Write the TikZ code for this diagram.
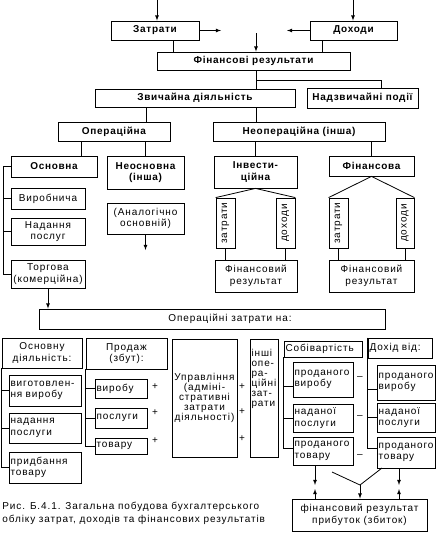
\documentclass[tikz,border=0pt]{standalone}
\usepackage{fontspec}
\setmainfont{Liberation Sans}[LetterSpace=9, BoldFeatures={LetterSpace=7}]
\usepackage{tikz}
\tikzset{
	% ordinary box
	box/.style={
		draw,
		inner sep=1pt,
		align=center,
		font=\fontsize{10}{11.5}\selectfont
	}, %
	% bold box
	bbox/.style={
		box,
		font=\fontsize{10}{11.5}\selectfont\bfseries
	}, %
	% box with text to the left
	lbox/.style={
		box,
		align=left,
		inner xsep=1.5pt,
		text width=#1
	}, %
	% upright box
	vbox/.style={
		box,
		rotate=90
	}, %
	% free text
	txt/.style={
		inner sep=0pt,
		font=\fontsize{10}{11.5}\selectfont
	} %
}

\begin{document}
\begin{tikzpicture}[x=1pt, y=-1pt, line width=0.8pt]
	\useasboundingbox (0,0) rectangle (438,533);

	%% Затрати, доходи, фінансові результати
	\node [bbox, minimum width=88, minimum height=19] (zatr) at (155,30.5) {Затрати};
	\node [bbox, minimum width=87, minimum height=19] (doh) at (353.5,30.5) {Доходи};
	\node [bbox, minimum width=193, minimum height=18] (finres) at (253.5,61) {Фінансові результати};
	\node [bbox, minimum width=200, minimum height=18] (zvych) at (195,98) {Звичайна діяльність};
	\node [bbox, minimum width=111, minimum height=20] (nadzv) at (362.5,98) {Надзвичайні події};

	\coordinate (zin) at (157,0);
	\coordinate (din) at (353,0);
	\coordinate (zout) at (221,30.5);
	\coordinate (dout) at (287,30.5);
	\coordinate (fin) at (256,33);
	\coordinate (j1) at (256,80);
	\draw [-latex] (zin) -- (zin |- zatr.north);
	\draw [-latex] (din) -- (din |- doh.north);
	\draw [-latex] (zatr.east) -- (zout);
	\draw [-latex] (doh.west) -- (dout);
	\draw [-latex] (fin) -- (fin |- finres.north);
	\draw ([xshift=18pt]zatr.south) -- ([xshift=18pt]zatr.south |- finres.north);
	\draw ([xshift=-31.5pt]doh.south) -- ([xshift=-31.5pt]doh.south |- finres.north);
	\draw (j1 |- finres.south) -- (j1 |- zvych.north);
	\draw (j1) -| ([xshift=18.5pt]nadzv.north);

	%% Операційна
	\node [bbox, minimum width=112, minimum height=19] (oper) at (114,131.5) {Операційна};
	\node [bbox, minimum width=172, minimum height=19] (neoper) at (299,131.5) {Неопераційна (інша)};
	\coordinate (c1) at (146,0);
	\coordinate (c2) at (81,0);
	\draw (c1 |- zvych.south) -- (c1 |- oper.north);
	\draw (j1 |- zvych.south) -- (j1 |- neoper.north);

	\node [bbox, minimum width=86, minimum height=21] (osn) at (54,166.5) {Основна};
	\node [bbox, minimum width=77, minimum height=33] (neosn) at (145.5,172.5) {Неосновна\\(інша)};
	\node [box, minimum width=74, minimum height=21] (vyrob) at (48,198.5) {Виробнича};
	\node [box, minimum width=74, minimum height=27] (nadan) at (48,231.5) {Надання\\послуг};
	\node [box, minimum width=74, minimum height=28] (torg) at (48,274) {Торгова\\(комерційна)};
	\node [box, minimum width=77, minimum height=31] (analog) at (145.5,218.5) {(Аналогічно\\основній)};
	\draw (c2 |- oper.south) -- (c2 |- osn.north);
	\draw (neosn.north |- oper.south) -- (neosn.north);
	\coordinate (lb) at (3,166.5);
	\draw (osn.west) -- (lb) |- (torg.west);
	\draw (lb) |- (vyrob.west);
	\draw (lb) |- (nadan.west);
	\coordinate (aend) at (145.5,250);
	\draw [-latex] (analog.south) -- (aend);

	%% Неопераційна
	\node [bbox, minimum width=83, minimum height=32] (invest) at (255.5,172) {Інвести-\\ційна};
	\node [bbox, minimum width=85, minimum height=20] (finans) at (371.5,166) {Фінансова};
	\draw (invest.north |- neoper.south) -- (invest.north);
	\draw (finans.north |- neoper.south) -- (finans.north);

	\node [vbox, minimum width=50, minimum height=19] (iz) at (225.5,223) {затрати};
	\node [vbox, minimum width=50, minimum height=19] (id) at (285.5,223) {доходи};
	\node [box, minimum width=82, minimum height=32] (ifr) at (256,276) {Фінансовий\\результат};
	\node [vbox, minimum width=50, minimum height=19] (fz) at (338.5,223) {затрати};
	\node [vbox, minimum width=50, minimum height=18] (fd) at (405,223) {доходи};
	\node [box, minimum width=85, minimum height=32] (ffr) at (371.5,276) {Фінансовий\\результат};
	\draw (iz.north east) -- (invest.south) -- (id.south east);
	\draw (fz.north east) -- (finans.south) -- (fd.south east);
	\draw (iz.west) -- (iz.west |- ifr.north);
	\draw (id.west) -- (id.west |- ifr.north);
	\draw (fz.west) -- (fz.west |- ffr.north);
	\draw (fd.west) -- (fd.west |- ffr.north);

	%% Операційні затрати
	\node [box, minimum width=346, minimum height=20] (opz) at (212,319) {\hspace*{36pt}Операційні затрати на:};
	\draw [-latex] (torg.south) -- (torg.south |- opz.north);

	\node [box, minimum width=80, minimum height=30] (osnd) at (42,353) {Основну\\діяльність:};
	\node [lbox=69, minimum height=31] (vyg) at (45,390.5) {виготовлен-\\ня виробу};
	\node [lbox=69, minimum height=30] (nad2) at (45,428) {надання\\послуги};
	\node [lbox=69, minimum height=31] (pryd) at (45,467.5) {придбання\\товару};
	\draw (osnd.south west) |- (pryd.west);
	\draw (osnd.south west) |- (vyg.west);
	\draw (osnd.south west) |- (nad2.west);

	\node [box, minimum width=81, minimum height=31] (prod) at (126.5,353.5) {Продаж\\(збут):};
	\node [lbox=49, minimum height=19] (pv) at (121,388.5) {виробу};
	\node [lbox=49, minimum height=20] (pp) at (121,418) {послуги};
	\node [lbox=49, minimum height=16] (ptov) at (121,446) {товару};
	\draw (prod.south west) |- (ptov.west);
	\draw (prod.south west) |- (pv.west);
	\draw (prod.south west) |- (pp.west);

	\node [box, minimum width=65, minimum height=118, font=\fontsize{10}{10}\selectfont] (upr) at (204.5,398)
		{Управління\\(адміні-\\стративні\\затрати\\діяльності)};
	\node [box, minimum width=28, minimum height=118] (inshi) at (264,398) {};
	\node [txt, anchor=north west, align=left, font=\fontsize{10}{10}\selectfont] (inshit)
		at ([xshift=1.5pt, yshift=-10pt]inshi.north west) {інші\\опе-\\ра-\\ційні\\зат-\\рати};

	\node [txt] (pl1) at (155,387) {+};
	\node [txt] (pl2) at (155,413) {+};
	\node [txt] (pl3) at (155,441) {+};
	\node [txt] (pl4) at (242,387) {+};
	\node [txt] (pl5) at (242,412) {+};
	\node [txt] (pl6) at (242,439) {+};

	%% Собівартість і дохід
	\node [lbox=75, minimum height=16] (sob) at (323,349) {Собівартість};
	\node [lbox=57, minimum height=35] (sv) at (323,379.5) {проданого\\виробу};
	\node [lbox=57, minimum height=28] (sp) at (323,418) {наданої\\послуги};
	\node [lbox=57, minimum height=28] (st) at (323,451) {проданого\\товару};
	\draw (sob.south west) |- ([yshift=-7pt]sv.west);
	\draw (sob.south west) |- (sp.west);
	\draw (sob.south west) |- ([yshift=3pt]st.west);

	\node [txt] (mn1) at (360,378) {–};
	\node [txt] (mn2) at (360,417) {–};
	\node [txt] (mn3) at (360,456) {–};

	\node [lbox=61, minimum height=20] (doh2) at (400,348) {Дохід від:};
	\node [lbox=55, minimum height=35] (dv) at (406,382.5) {проданого\\виробу};
	\node [lbox=55, minimum height=29] (dp) at (406,417.5) {наданої\\послуги};
	\node [lbox=55, minimum height=31] (dt) at (406,452.5) {проданого\\товару};
	\draw (doh2.north west) |- ([yshift=-7pt]dv.west);
	\draw (doh2.south west) |- (dp.west);
	\draw (doh2.south west) |- ([yshift=4pt]dt.west);

	%% фінансовий результат
	\node [box, minimum width=135, minimum height=32] (fres) at (359.5,515) {фінансовий результат\\прибуток (збиток)};
	\coordinate (a1) at (315,485);
	\coordinate (a2) at (315,489);
	\coordinate (a3) at (399,485);
	\coordinate (a4) at (399,489);
	\coordinate (apex) at (360,485);
	\coordinate (d1) at (332,472);
	\coordinate (d2) at (382,468);
	\draw [-latex] (a1 |- st.south) -- (a1);
	\draw [-latex] (a2 |- fres.north) -- (a2);
	\draw [-latex] (a3 |- dt.south) -- (a3);
	\draw [-latex] (a4 |- fres.north) -- (a4);
	\draw (d1) -- (apex) -- (d2);
	\draw [-latex] (apex) -- (apex |- fres.north);

	\node [txt, anchor=north west, align=left, font=\fontsize{10}{13}\selectfont] (cap) at (2,502)
		{Рис. Б.4.1. Загальна побудова бухгалтерського\\обліку затрат, доходів та фінансових результатів};
\end{tikzpicture}
\end{document}
